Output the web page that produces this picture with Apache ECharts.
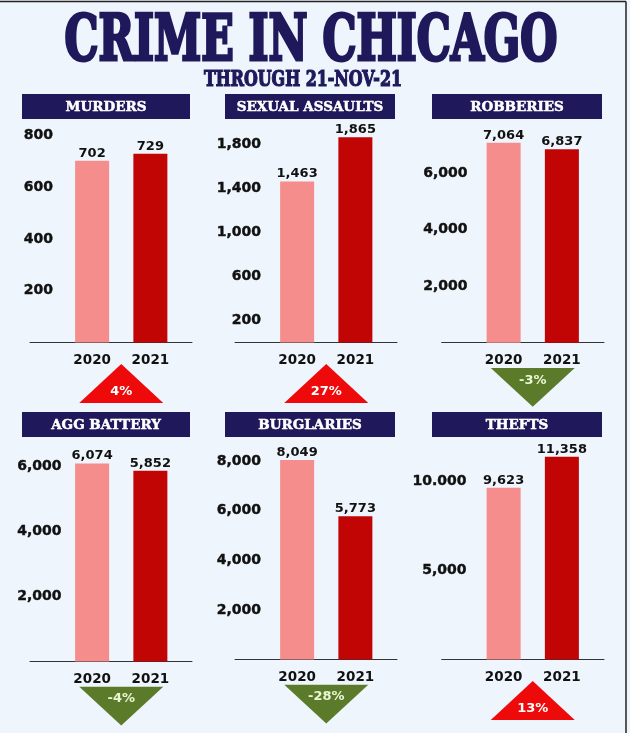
<!DOCTYPE html>
<html>
<head>
<meta charset="utf-8">
<script src="https://cdn.jsdelivr.net/npm/echarts@6/dist/echarts.min.js"></script>
<style>
html,body{margin:0;padding:0;background:#eff5fc;}
#main{width:630px;height:733px;}
</style>
</head>
<body>
<div id="main"></div>
<script>
// ---- data ----
const titleText = 'CRIME IN CHICAGO';
const subtitleText = 'THROUGH 21-NOV-21';
const categories = ['2020', '2021'];
const crimes = ['MURDERS', 'SEXUAL ASSAULTS', 'ROBBERIES', 'AGG BATTERY', 'BURGLARIES', 'THEFTS'];
const values2020 = [702, 1463, 7064, 6074, 8049, 9623];
const values2021 = [729, 1865, 6837, 5852, 5773, 11358];
const changes = ['4%', '27%', '-3%', '-4%', '-28%', '13%'];
const tickValues = [
  [200, 400, 600, 800],
  [200, 600, 1000, 1400, 1800],
  [2000, 4000, 6000],
  [2000, 4000, 6000],
  [2000, 4000, 6000, 8000],
  [5000, 10000]
];
const tickLabels = [
  ['200', '400', '600', '800'],
  ['200', '600', '1,000', '1,400', '1,800'],
  ['2,000', '4,000', '6,000'],
  ['2,000', '4,000', '6,000'],
  ['2,000', '4,000', '6,000', '8,000'],
  ['5,000', '10.000']
];
const tickIntervals = [200, 200, 2000, 2000, 2000, 5000];

// ---- layout / style ----
const W = 630, H = 733;
const NAVY = '#1f195c';
const LIGHT = '#f68d8d', DARK = '#c10404';
const RED = '#ee0a0a', GREEN = '#5b7b2b';
const cols = [
  {gridLeft: 63, lineL: 30, lineR: 192, boxL: 22, boxR: 190},
  {gridLeft: 268, lineL: 235, lineR: 397, boxL: 225, boxR: 395},
  {gridLeft: 474.5, lineL: 441.7, lineR: 604, boxL: 432, boxR: 602}
];
const rows = [
  {gridTop: 128, boxT: 94, boxB: 119},
  {gridTop: 445, boxT: 412, boxB: 437}
];
const baselines = [342.5, 342.5, 342.7, 661.5, 659.5, 659.5];
const axisMax = [828, 1950, 7587, 6641, 8649, 12017];
const labelMargins = [10, 7, 7, 1.5, 7, 8];
const bandWidth = 116.5;

const chart = echarts.init(document.getElementById('main'), null, {renderer: 'canvas'});

const grid = [], xAxis = [], yAxis = [], series = [];
for (let p = 0; p < 6; p++) {
  const c = cols[p % 3], r = rows[Math.floor(p / 3)];
  const bottom = H - baselines[p];
  grid.push({left: c.gridLeft, width: bandWidth, top: r.gridTop, bottom: bottom});
  grid.push({left: c.lineL, width: c.lineR - c.lineL, top: r.gridTop, bottom: bottom});
  xAxis.push({
    type: 'category', gridIndex: 2 * p, data: categories,
    axisLine: {show: false}, axisTick: {show: false},
    axisLabel: {margin: 11, color: '#111', fontFamily: 'DejaVu Sans', fontWeight: 'bold', fontSize: 13.5}
  });
  xAxis.push({
    type: 'value', gridIndex: 2 * p + 1, min: 0, max: 1,
    axisLine: {show: true, lineStyle: {color: '#333', width: 1}},
    axisTick: {show: false}, axisLabel: {show: false}, splitLine: {show: false}
  });
  const tv = tickValues[p], tl = tickLabels[p];
  yAxis.push({
    type: 'value', gridIndex: 2 * p, min: 0, max: axisMax[p], interval: tickIntervals[p],
    axisLine: {show: false}, axisTick: {show: false}, splitLine: {show: false},
    axisLabel: {
      margin: labelMargins[p], color: '#111', fontFamily: 'DejaVu Sans', fontWeight: 'bold', fontSize: 14,
      showMinLabel: false, showMaxLabel: true,
      textBorderColor: '#111', textBorderWidth: 0.4,
      formatter: function (v) { const i = tv.indexOf(v); return i >= 0 ? tl[i] : ''; }
    }
  });
  yAxis.push({type: 'value', gridIndex: 2 * p + 1, min: 0, max: 1, show: false});
  series.push({
    type: 'bar', xAxisIndex: 2 * p, yAxisIndex: 2 * p, barWidth: 34, clip: false,
    data: [
      {value: values2020[p], itemStyle: {color: LIGHT}},
      {value: values2021[p], itemStyle: {color: DARK}}
    ],
    label: {
      show: true, position: 'top', distance: 1, color: '#111',
      fontFamily: 'DejaVu Sans', fontWeight: 'bold', fontSize: 13,
      formatter: function (pr) { return Number(pr.value).toLocaleString('en-US'); }
    },
    animation: false
  });
}

// measure helper for condensed headline fonts
const mctx = document.createElement('canvas').getContext('2d');
function fitScale(text, font, target) {
  mctx.font = font;
  return target / mctx.measureText(text).width;
}
const titleFont = 'bold 63px "DejaVu Serif Condensed", "DejaVu Serif", serif';
const subFont = 'bold 22px "DejaVu Serif Condensed", "DejaVu Serif", serif';

const graphic = [];
// outer frame lines
graphic.push({type: 'line', shape: {x1: 0, y1: 1.5, x2: 626, y2: 1.5}, style: {stroke: '#222', lineWidth: 1.5}, silent: true});
graphic.push({type: 'line', shape: {x1: 626, y1: 1.5, x2: 626, y2: H}, style: {stroke: '#222', lineWidth: 1.5}, silent: true});
// title & subtitle
graphic.push({
  type: 'text', x: 311, y: 44, scaleX: fitScale(titleText, titleFont, 493),
  style: {text: titleText, font: titleFont, fill: NAVY, stroke: NAVY, lineWidth: 3, textAlign: 'center', textVerticalAlign: 'middle'}
});
graphic.push({
  type: 'text', x: 303, y: 80, scaleX: fitScale(subtitleText, subFont, 198),
  style: {text: subtitleText, font: subFont, fill: NAVY, stroke: NAVY, lineWidth: 1.2, textAlign: 'center', textVerticalAlign: 'middle'}
});
// header boxes
for (let p = 0; p < 6; p++) {
  const c = cols[p % 3], r = rows[Math.floor(p / 3)];
  graphic.push({
    type: 'rect', shape: {x: c.boxL, y: r.boxT, width: c.boxR - c.boxL, height: r.boxB - r.boxT},
    style: {fill: NAVY}
  });
  graphic.push({
    type: 'text', x: (c.boxL + c.boxR) / 2, y: (r.boxT + r.boxB) / 2 + 0.5,
    style: {text: crimes[p], font: 'bold 13.5px "DejaVu Serif", serif', fill: '#ffffff', stroke: '#ffffff', lineWidth: 0.5, textAlign: 'center', textVerticalAlign: 'middle'}
  });
}

chart.setOption({
  backgroundColor: '#eff5fc',
  animation: false,
  grid: grid, xAxis: xAxis, yAxis: yAxis, series: series,
  graphic: graphic
});

// change indicators placed between the two bars via the axis scales
const arrows = [];
for (let p = 0; p < 6; p++) {
  const x0 = chart.convertToPixel({xAxisIndex: 2 * p}, categories[0]);
  const x1 = chart.convertToPixel({xAxisIndex: 2 * p}, categories[1]);
  const cx = (x0 + x1) / 2;
  const b = baselines[p];
  const down = changes[p].charAt(0) === '-';
  const hw = 42;
  let pts, ty, col, tcol;
  if (down) {
    pts = [[cx - hw, b + 25.2], [cx + hw, b + 25.2], [cx, b + 64]];
    ty = b + 37.5; col = GREEN; tcol = '#eaf6d6';
  } else {
    pts = [[cx, b + 21.5], [cx - hw, b + 60.5], [cx + hw, b + 60.5]];
    ty = b + 49; col = RED; tcol = '#ffffff';
  }
  arrows.push({type: 'polygon', shape: {points: pts}, style: {fill: col}});
  arrows.push({
    type: 'text', x: cx, y: ty,
    style: {text: changes[p], font: 'bold 13px "DejaVu Sans", sans-serif', fill: tcol, textAlign: 'center', textVerticalAlign: 'middle'}
  });
}
chart.setOption({graphic: graphic.concat(arrows)});
</script>
</body>
</html>
